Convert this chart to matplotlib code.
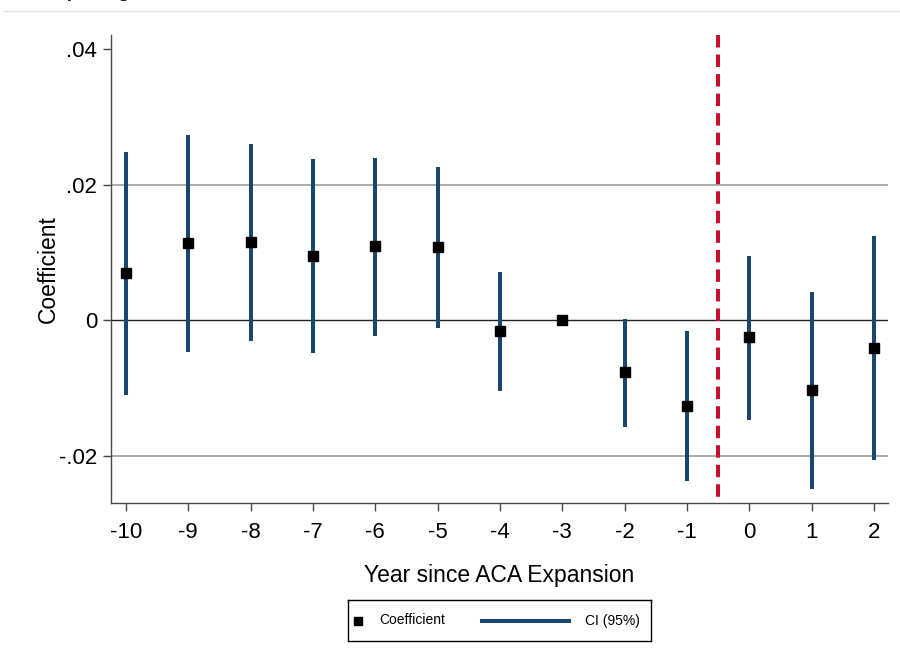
import matplotlib
matplotlib.use("Agg")
import matplotlib.pyplot as plt
from matplotlib.lines import Line2D

plt.rcParams['font.family'] = ['Liberation Sans', 'DejaVu Sans']

# Event-study estimates (reference year -3 normalised to zero)
years = [-10, -9, -8, -7, -6, -5, -4, -3, -2, -1, 0, 1, 2]
coef = [0.0069, 0.0114, 0.0115, 0.0095, 0.0109, 0.0108, -0.0016, 0.0,
        -0.0077, -0.0127, -0.0025, -0.0104, -0.0042]
ci_low = [-0.0111, -0.0047, -0.0031, -0.0049, -0.0024, -0.0012, -0.0105, None,
          -0.0158, -0.0238, -0.0148, -0.0250, -0.0206]
ci_high = [0.0248, 0.0273, 0.0260, 0.0238, 0.0239, 0.0226, 0.0071, None,
           0.0001, -0.0016, 0.0095, 0.0041, 0.0124]
y_ticks = [-0.02, 0.0, 0.02, 0.04]
y_tick_labels = ['-.02', '0', '.02', '.04']
policy_break = -0.5

navy = '#1a476f'
red = '#c8102e'

fig = plt.figure(figsize=(9, 6.62), dpi=100)
fig.patch.set_facecolor('white')

# heading running off the top of the page, and the rule under it
fig.text(8 / 900, 1 + 3.0 / 662, 'Mortality among', family='Liberation Serif',
         fontweight='bold', fontsize=12, ha='left', va='baseline', color='black')
fig.add_artist(Line2D([4 / 900, 1.0], [1 - 11 / 662, 1 - 11 / 662],
                      color='#e3e3e3', lw=1.0, transform=fig.transFigure))

ax = fig.add_axes([111 / 900, 1 - 503 / 662, 777 / 900, 468 / 662])
y_min, y_max = -0.02701, 0.04207
ax.set_xlim(-10.24, 2.225)
ax.set_ylim(y_min, y_max)

# horizontal grid
for t in y_ticks:
    if t == 0.0:
        ax.axhline(t, color='#222222', lw=1.0, zorder=1)
    elif t < 0.04:
        ax.axhline(t, color='#a6a6a6', lw=1.3, zorder=1)

# confidence intervals
for x, lo, hi in zip(years, ci_low, ci_high):
    if lo is not None:
        ax.vlines(x, lo, hi, color=navy, lw=2.9, zorder=3)

ax.plot(years, coef, linestyle='none', marker='s', markersize=6.5,
        color='black', zorder=4)

# expansion date, dashed from the top down
ax.plot([policy_break, policy_break], [y_max, y_min], color=red, lw=2.9,
        linestyle=(0, (3.1, 1.75)), zorder=2, solid_capstyle='butt',
        dash_capstyle='butt')

for side in ['top', 'right']:
    ax.spines[side].set_visible(False)
for side in ['left', 'bottom']:
    ax.spines[side].set_color('#4a4a4a')
    ax.spines[side].set_linewidth(1.0)

ax.set_xticks(years)
ax.set_xticklabels([str(y) for y in years])
ax.set_yticks(y_ticks)
ax.set_yticklabels(y_tick_labels)
ax.tick_params(axis='both', direction='out', length=6, width=1.0,
               color='#4a4a4a', labelsize=16)
ax.tick_params(axis='x', pad=8)
ax.tick_params(axis='y', pad=4)

ax.set_xlabel('Year since ACA Expansion', fontsize=16.5, labelpad=15)
ax.set_ylabel('Coefficient', fontsize=16.5, labelpad=-1)

# legend box
lax = fig.add_axes([348 / 900, 1 - 641 / 662, 303 / 900, 41 / 662])
lax.set_xlim(0, 303)
lax.set_ylim(0, 41)
lax.set_xticks([])
lax.set_yticks([])
for s in lax.spines.values():
    s.set_color('black')
    s.set_linewidth(1.0)
lax.plot([10], [20.5], marker='s', markersize=5.5, color='black', linestyle='none')
lax.text(31, 20.5, 'Coefficient', fontsize=10, va='center', ha='left')
lax.plot([134, 221], [20.5, 20.5], color=navy, lw=2.9)
lax.text(237, 20.5, 'CI (95%)', fontsize=10, va='center', ha='left')

fig.savefig('out.png', dpi=100, facecolor='white')
